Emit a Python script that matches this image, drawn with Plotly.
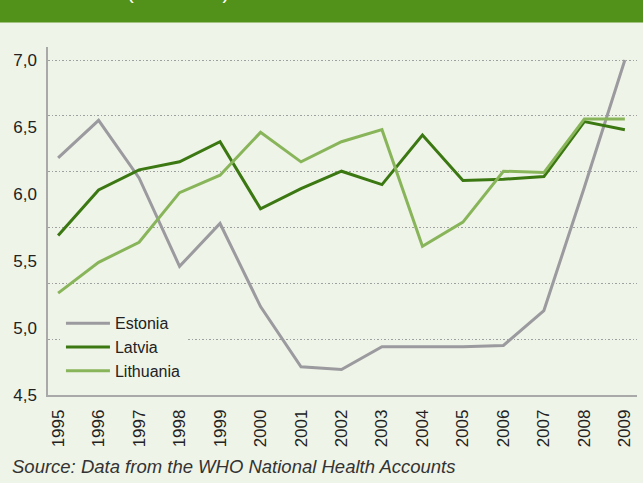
import plotly.graph_objects as go

years = list(range(1995, 2010))
estonia = [6.27, 6.55, 6.12, 5.46, 5.78, 5.16, 4.71, 4.69, 4.86, 4.86, 4.86, 4.87, 5.13, 6.05, 7.0]
latvia = [5.69, 6.03, 6.18, 6.24, 6.39, 5.89, 6.04, 6.17, 6.07, 6.44, 6.10, 6.11, 6.13, 6.54, 6.48]
lithuania = [5.26, 5.49, 5.64, 6.01, 6.14, 6.46, 6.24, 6.39, 6.48, 5.61, 5.79, 6.17, 6.16, 6.56, 6.56]

y_ticks = [4.5, 5.0, 5.5, 6.0, 6.5, 7.0]
y_tick_labels = ["4,5", "5,0", "5,5", "6,0", "6,5", "7,0"]
title_fragment = "(% of GDP)"
source_text = "Source: Data from the WHO National Health Accounts"

series = [
    ("Estonia", estonia, "#9b9a9f"),
    ("Latvia", latvia, "#3b7812"),
    ("Lithuania", lithuania, "#89b55a"),
]

BG = "#eff4e8"
FONT = "Liberation Sans, Arial, sans-serif"
y_range = [4.5, 7.097]

fig = go.Figure()
for name, vals, col in series:
    fig.add_trace(go.Scatter(x=years, y=vals, name=name, mode="lines",
                             line=dict(color=col, width=3)))
# helper trace for the gridline axis
fig.add_trace(go.Scatter(x=[years[0]], y=[y_ticks[0]], yaxis="y2", mode="markers",
                         marker=dict(opacity=0), showlegend=False, hoverinfo="skip"))

fig.update_layout(
    width=643, height=483,
    margin=dict(l=48, r=6, t=47, b=88),
    paper_bgcolor=BG, plot_bgcolor=BG,
    font=dict(family=FONT, size=17, color="#222222"),
    showlegend=True,
    legend=dict(x=0.022, y=0.255, xanchor="left", yanchor="top",
                bgcolor=BG, borderwidth=0, font=dict(size=16),
                itemwidth=44, tracegroupgap=0),
    xaxis=dict(range=[1994.75, 2009.3], tickvals=years, ticktext=[str(y) for y in years],
               tickangle=-90, showgrid=False, zeroline=False,
               showline=True, linecolor="#a9a9a9", linewidth=1.5,
               ticks="", ticklabelstandoff=6, tickfont=dict(size=17)),
    yaxis=dict(range=y_range, tickvals=y_ticks, ticktext=y_tick_labels,
               showgrid=False, zeroline=False, showline=True,
               linecolor="#a9a9a9", linewidth=1.5, ticks="",
               ticklabelstandoff=6, tickfont=dict(size=17)),
    yaxis2=dict(range=y_range, overlaying="y", side="left", tick0=4.5, dtick=2.5 / 6,
                showgrid=True, griddash="1.5px,2px", gridcolor="#a0a0a0", gridwidth=1,
                showticklabels=False, zeroline=False, showline=False, ticks=""),
    shapes=[dict(type="rect", xref="paper", yref="paper", x0=-0.2, x1=1.1,
                 y0=1.0704, y1=1.3, fillcolor="#52921a", line=dict(width=0), layer="above")],
    annotations=[
        dict(text=title_fragment, xref="paper", yref="paper", x=(178 - 48) / 589, y=1.121,
             xanchor="center", yanchor="bottom", showarrow=False,
             font=dict(color="white", size=20, family=FONT)),
        dict(text="<i>" + source_text + "</i>", xref="paper", yref="paper",
             x=-38 / 589, y=-(466 - 395) / 348, xanchor="left", yanchor="middle",
             showarrow=False, font=dict(size=18.5, color="#333333", family=FONT)),
    ],
)

fig.write_html("out.html", config={"displayModeBar": False},
               post_script="document.body.style.margin='0';")
